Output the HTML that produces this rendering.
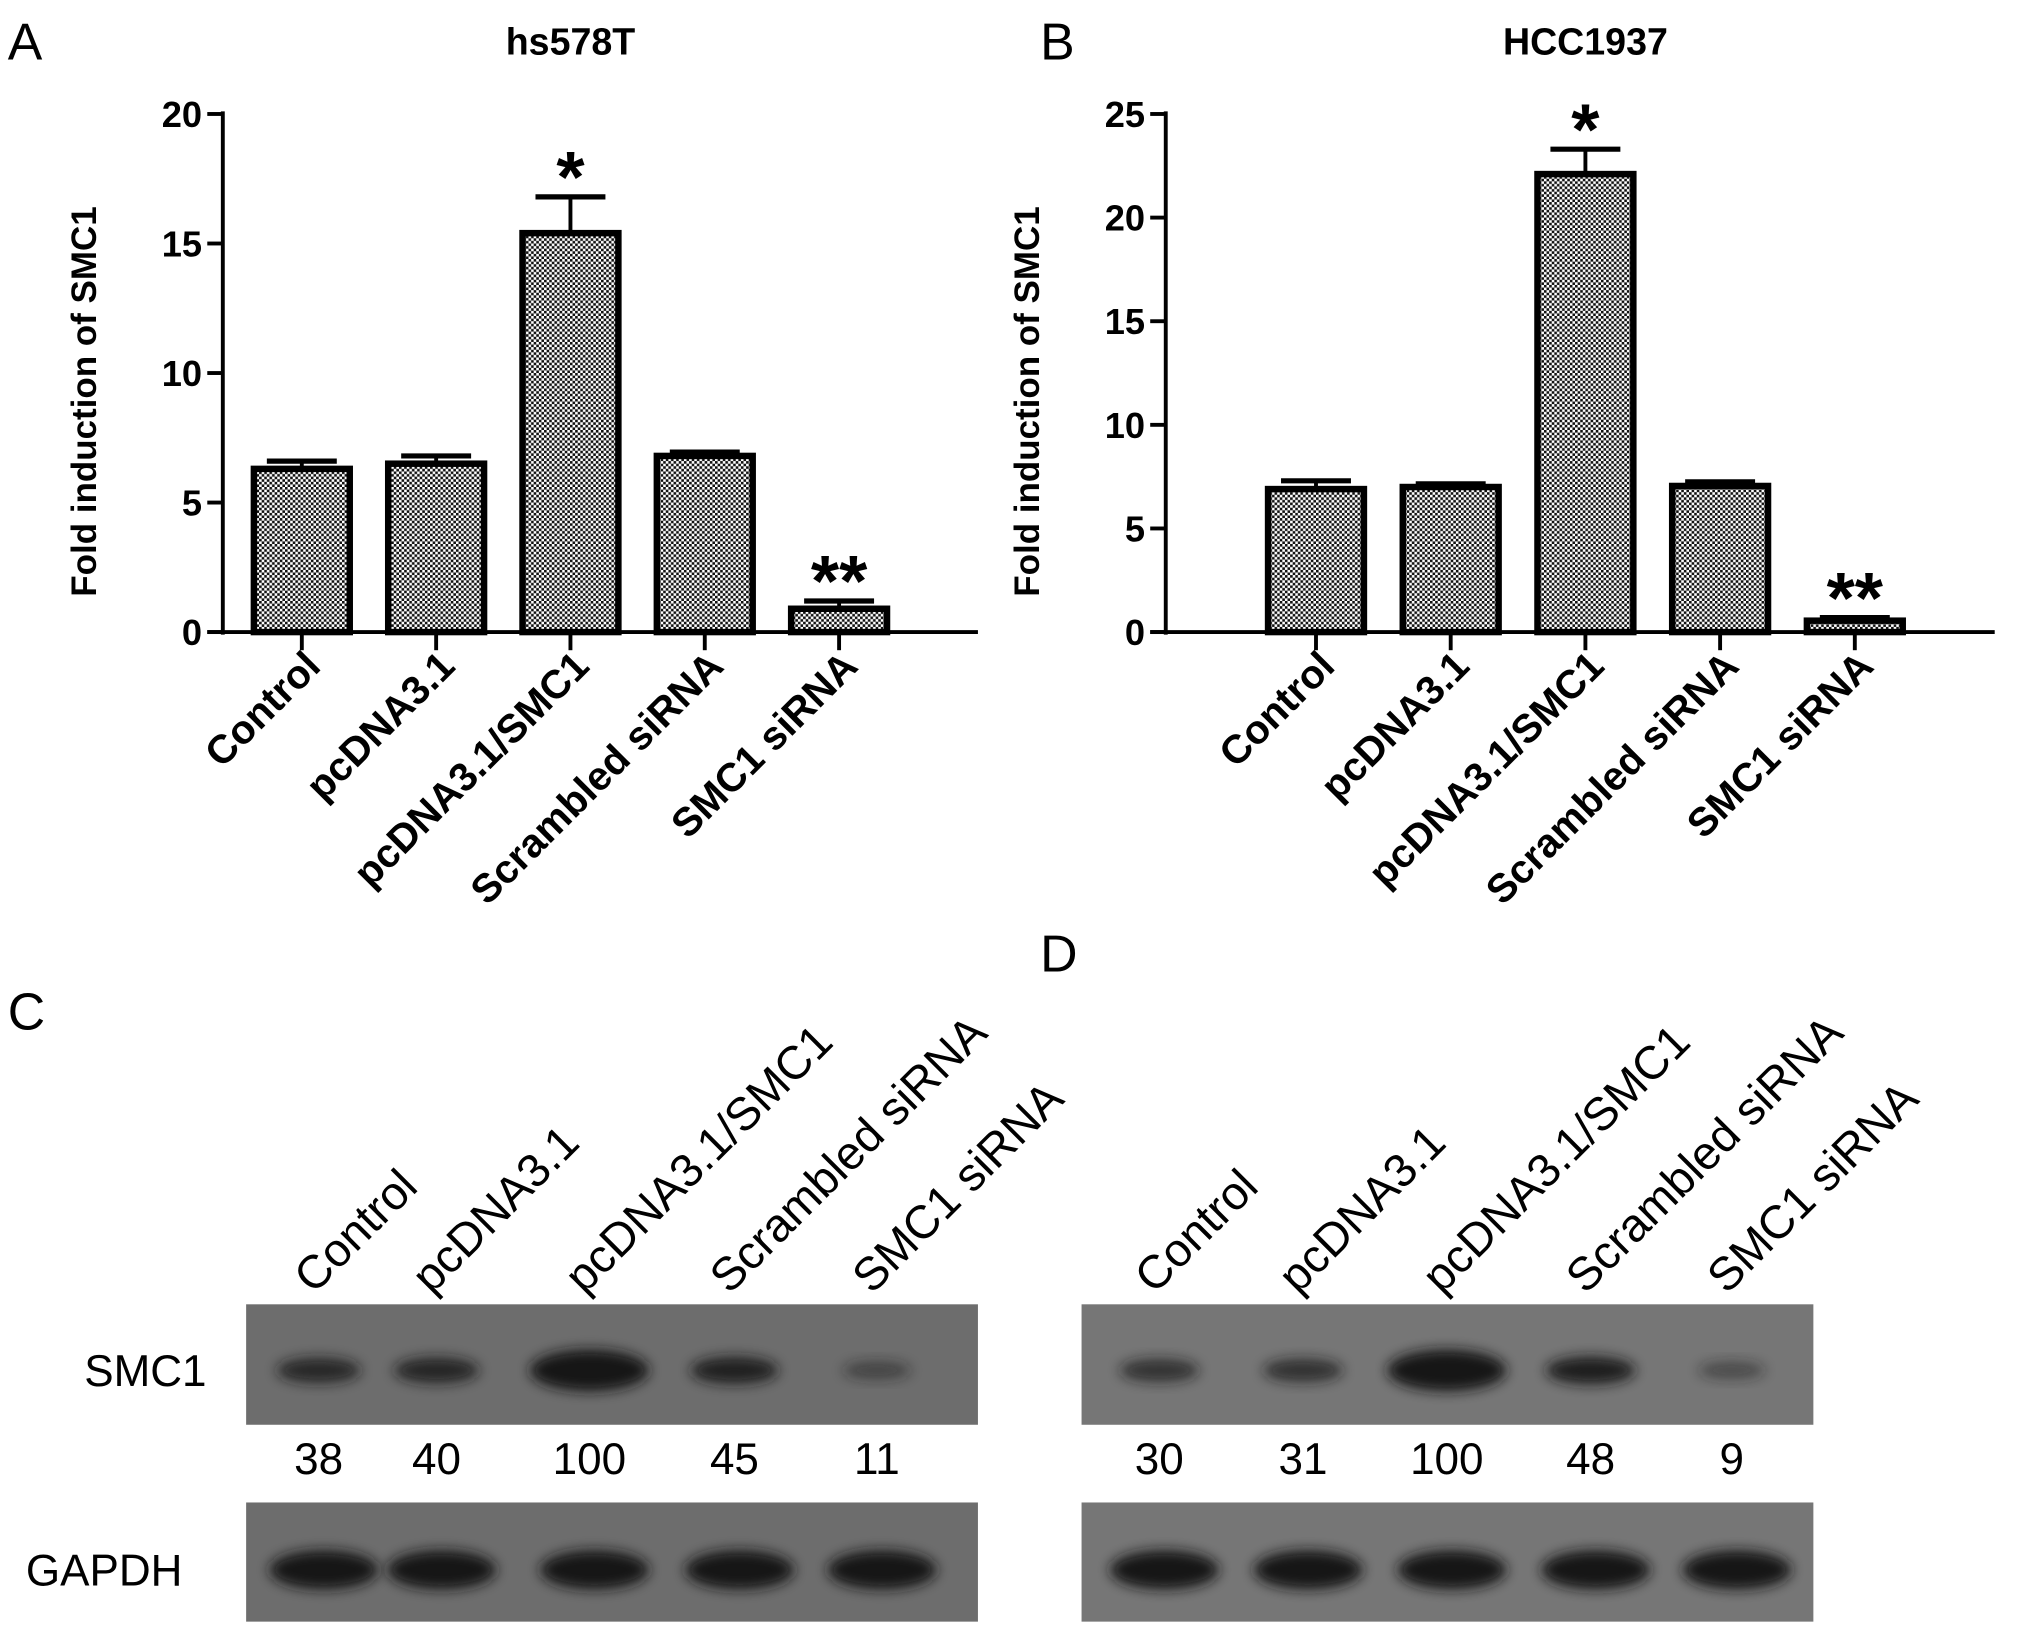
<!DOCTYPE html>
<html><head><meta charset="utf-8"><style>
html,body{margin:0;padding:0;background:#fff}
svg{display:block}
text{font-family:"Liberation Sans",Arial,sans-serif}
</style></head><body>
<svg id="fig" width="2031" height="1632" viewBox="0 0 1568 1260" xmlns="http://www.w3.org/2000/svg">
<defs>
<pattern id="chk" width="4" height="4" patternUnits="userSpaceOnUse">
<rect width="4" height="4" fill="#fff"/><rect width="2" height="2" fill="#111"/><rect x="2" y="2" width="2" height="2" fill="#111"/>
</pattern>
<filter id="blur" x="-50%" y="-50%" width="200%" height="200%"><feGaussianBlur stdDeviation="5"/></filter>
</defs>
<g id="root"></g>
</svg>
<script>
const categories=["Control","pcDNA3.1","pcDNA3.1/SMC1","Scrambled siRNA","SMC1 siRNA"];
const valuesA=[6.3,6.5,15.4,6.8,0.9];
const errorsA=[0.3,0.3,1.4,0.15,0.3];
const valuesB=[6.9,7.0,22.1,7.05,0.55];
const errorsB=[0.4,0.15,1.2,0.2,0.15];
const ticksA=[0,5,10,15,20];
const ticksB=[0,5,10,15,20,25];
const sigLabels=["","","*","","**"];
const densC=["38","40","100","45","11"];
const densD=["30","31","100","48","9"];
const bandC=[0.38,0.40,1.0,0.45,0.11];
const bandD=[0.30,0.31,1.0,0.48,0.09];

const NS="http://www.w3.org/2000/svg";
const root=document.getElementById('root');
function mk(tag,attrs,parent,txt){const e=document.createElementNS(NS,tag);for(const k in attrs)e.setAttribute(k,attrs[k]);if(txt!==undefined)e.textContent=txt;(parent||root).appendChild(e);return e;}

function chart(name,x0,x1,first,step,max,ticks,vals,errs,title,letter,lx){
  const g=mk('g',{});
  
  
  const yb=488,yt=88;
  const ys=v=>yb-(v/max)*(yb-yt);
  const xc=i=>first+step*i;
  const pl=mk('text',{x:lx,y:46,'font-size':40},g,letter);
  
  
  const t=mk('text',{x:xc(2),y:42,'font-size':29,'font-weight':'bold','text-anchor':'middle'},g,title);
  
  
  const ya=mk('line',{x1:x0,y1:yt-2,x2:x0,y2:yb+2,stroke:'#000','stroke-width':3},g);
  
  
  const xa=mk('line',{x1:x0-12,y1:yb,x2:x1,y2:yb,stroke:'#000','stroke-width':3},g);
  
  
  ticks.forEach(v=>{
    mk('line',{x1:x0-12,y1:ys(v),x2:x0,y2:ys(v),stroke:'#000','stroke-width':3},g);
    const tl=mk('text',{x:x0-16,y:ys(v)+10,'font-size':28,'font-weight':'bold','text-anchor':'end'},g,String(v));
    
    
  });
  const yt2=mk('text',{x:0,y:0,'font-size':27,'font-weight':'bold','text-anchor':'middle',transform:`translate(${x0-98},${310}) rotate(-90)`},g,'Fold induction of SMC1');
  
  
  const bw=74;
  vals.forEach((v,i)=>{
    const cx=xc(i);
    mk('line',{x1:cx,y1:yb,x2:cx,y2:yb+14,stroke:'#000','stroke-width':3},g);
    const ey=ys(v+errs[i]);
    mk('line',{x1:cx,y1:ys(v),x2:cx,y2:ey,stroke:'#000','stroke-width':3},g);
    mk('line',{x1:cx-27,y1:ey,x2:cx+27,y2:ey,stroke:'#000','stroke-width':4},g);
    const b=mk('rect',{x:cx-bw/2,y:ys(v),width:bw,height:yb-ys(v),fill:'url(#chk)',stroke:'#000','stroke-width':5},g);
    
    
    if(sigLabels[i]){
      const s=mk('text',{x:cx,y:ey+4,'font-size':56,'font-weight':'bold','text-anchor':'middle'},g,sigLabels[i]);
      
      
    }
    const xl=mk('text',{x:0,y:0,'font-size':31,'font-weight':'bold','text-anchor':'end',transform:`translate(${cx+16},${yb+28}) rotate(-45)`},g,categories[i]);
    
    
  });
}
chart('chart-a-hs578t',172,755,233,103.7,20,ticksA,valuesA,errorsA,'hs578T','A',6);
chart('chart-b-hcc1937',900,1540,1016,104,25,ticksB,valuesB,errorsB,'HCC1937','B',803);

function blot(name,x0,x1,lanes,dens,band,letter,ly,showLabels,bg){
  const g=mk('g',{});
  
  
  const pl=mk('text',{x:letter==='C'?6:803,y:ly,'font-size':40},g,letter);
  
  
  const p1=mk('rect',{x:x0,y:1007,width:x1-x0,height:93,fill:bg},g);
  
  
  const p2=mk('rect',{x:x0,y:1160,width:x1-x0,height:92,fill:bg},g);
  
  
  lanes.forEach((cx,i)=>{
    const s=band[i];
    const rx=24+s*22, ry=6+s*10, op=0.35+0.65*Math.min(1,s*1.8);
    mk('ellipse',{cx:cx,cy:1058,rx:rx,ry:ry,fill:'#141414',opacity:op,filter:'url(#blur)'},g);
    mk('ellipse',{cx:cx+4,cy:1212,rx:42,ry:15,fill:'#161616',filter:'url(#blur)'},g);
    const n=mk('text',{x:cx,y:1138,'font-size':34,'text-anchor':'middle'},g,dens[i]);
    
    
    const l=mk('text',{x:0,y:0,'font-size':36,'text-anchor':'start',transform:`translate(${cx-4},${1000}) rotate(-45)`},g,categories[i]);
    
    
  });
  if(showLabels){
    const a=mk('text',{x:65,y:1070,'font-size':34},g,'SMC1');
    
    
    const b=mk('text',{x:20,y:1224,'font-size':34},g,'GAPDH');
    
    
  }
}
blot('western-blot-c',190,755,[246,337,455,567,677],densC,bandC,'C',795,true,'#6d6d6d');
blot('western-blot-d',835,1400,[895,1006,1117,1228,1337],densD,bandD,'D',750,false,'#767676');
</script>
</body></html>
